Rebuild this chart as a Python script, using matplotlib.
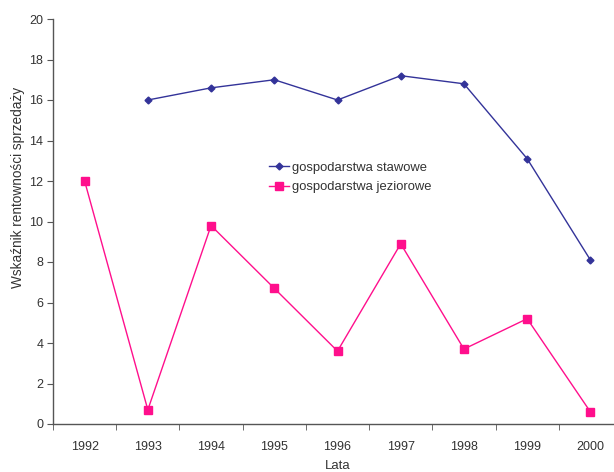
import matplotlib
matplotlib.use("Agg")
import matplotlib.pyplot as plt
import numpy as np

years = ["1992", "1993", "1994", "1995", "1996", "1997", "1998", "1999", "2000"]
stawowe = [np.nan, 16.0, 16.6, 17.0, 16.0, 17.2, 16.8, 13.1, 8.1]
jeziorowe = [12.0, 0.7, 9.8, 6.7, 3.6, 8.9, 3.7, 5.2, 0.6]

plt.rcParams["font.family"] = ["Liberation Sans", "DejaVu Sans"]
text_col = "#333333"

fig = plt.figure(figsize=(6.14, 4.72), dpi=100)
# category width ~63 px; the plot runs a bit past the right edge
ax = fig.add_axes([53 / 614, 48 / 472, 569 / 614, 405 / 472])

x = np.arange(len(years))
ax.plot(x, stawowe, color="#333399", lw=1.0, marker="D", ms=3.5,
        label="gospodarstwa stawowe")
ax.plot(x, jeziorowe, color="#ff0f8c", lw=1.0, marker="s", ms=6,
        label="gospodarstwa jeziorowe")

ax.set_xlim(-0.5, len(years) - 0.5)
ax.set_ylim(0, 20)
ax.set_yticks(np.arange(0, 21, 2))

ax.set_xticks(x)
ax.set_xticklabels(years)
ax.set_xticks(np.arange(-0.5, len(years) - 0.5, 1), minor=True)
ax.tick_params(axis="x", which="major", length=0, pad=12)
ax.tick_params(axis="x", which="minor", length=4, direction="out", color="#555555")
ax.tick_params(axis="y", length=4, direction="out", color="#555555", pad=3)
ax.tick_params(labelsize=9, labelcolor=text_col)

for side in ["top", "right"]:
    ax.spines[side].set_visible(False)
for side in ["left", "bottom"]:
    ax.spines[side].set_color("#555555")
    ax.spines[side].set_linewidth(1.0)

ax.set_xlabel("Lata", fontsize=9.5, color=text_col, labelpad=5)
ax.set_ylabel("Wskaźnik rentowności sprzedaży", fontsize=9.8, color=text_col)
ax.yaxis.set_label_coords(-0.050, 0.584)

ax.legend(loc="upper left", bbox_to_anchor=(0.37, 0.66), frameon=False,
          fontsize=9.4, labelcolor=text_col, handlelength=1.55,
          handletextpad=0.25, labelspacing=0.55, borderaxespad=0)

fig.savefig("out.png", dpi=100)
